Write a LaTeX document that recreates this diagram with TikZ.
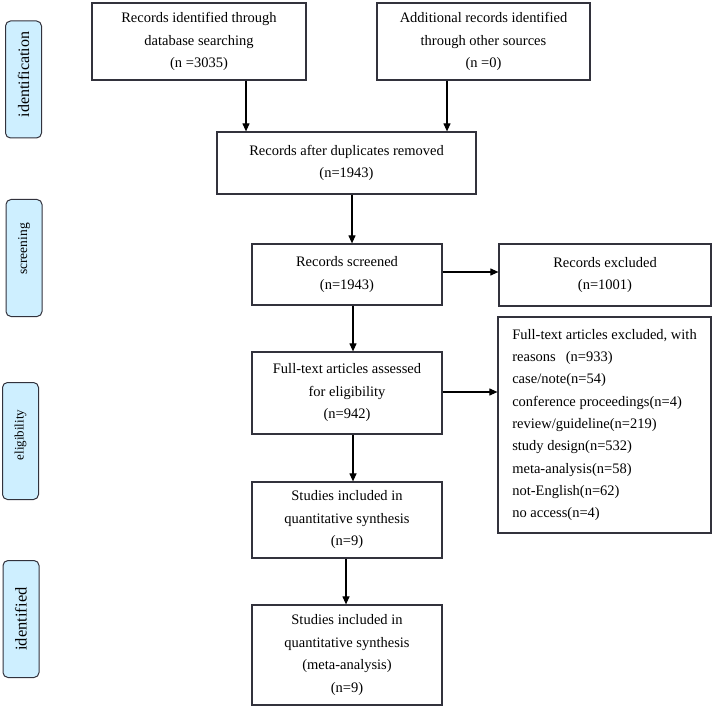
\documentclass[tikz,border=0pt]{standalone}
\usepackage{fontspec}
\setmainfont{Liberation Serif}
\usepackage{xcolor}
\usetikzlibrary{arrows.meta,positioning,calc}
\definecolor{phase}{RGB}{206,239,255}
\definecolor{edge}{RGB}{50,50,60}

\begin{document}
\begin{tikzpicture}[x=1pt,y=-1pt,
  box/.style={draw=edge,line width=1.2pt,minimum width=190pt,align=center,inner sep=2pt,
    font=\fontsize{14.5}{22.5}\selectfont},
  side/.style={draw=edge,fill=phase,line width=1pt,rounded corners=5pt,rotate=90,
    minimum width=117pt,minimum height=36pt,font=\fontsize{13.5}{16}\selectfont},
  arr/.style={-{Triangle[length=8pt,width=7pt]},line width=1.1pt,draw=black}
]
\useasboundingbox (0,0) rectangle (714,708);
% Phases
\node[side,font=\fontsize{16}{18}\selectfont]   (ident)  at (23.5,79.5) {\hspace{10pt}identification};
\node[side]                                     (screen) at (24,258)    {\hspace{18pt}screening};
\node[side,font=\fontsize{13}{15}\selectfont]   (elig)   at (20.5,441)  {\hspace{12pt}eligibility};
\node[side,font=\fontsize{16.5}{18}\selectfont] (incd)   at (21,619)    {identified};

% Boxes
\node[box,minimum width=214pt,minimum height=77pt] (db)    at (199,41.5)  {Records identified through\\database searching\\(n =3035)};
\node[box,minimum width=213pt,minimum height=77pt] (other) at (483.5,41.5){Additional records identified\\through other sources\\(n =0)};
\node[box,minimum width=259pt,minimum height=62pt] (dup)   at (346.5,163) {Records after duplicates removed\\(n=1943)};
\node[box,minimum height=61pt]                     (scr)   at (347,274.5) {Records screened\\(n=1943)};
\node[box,minimum width=212pt,minimum height=62pt] (exc)   at (605,275)   {Records excluded\\(n=1001)};
\node[box,minimum height=82pt]                     (full)  at (347,393)   {Full-text articles assessed\\for eligibility\\(n=942)};
\node[box,minimum width=213pt,minimum height=216pt,align=left,inner sep=11pt,
  font=\fontsize{14.5}{22.3}\selectfont]           (reas)  at (604.5,425) {Full-text articles excluded, with\\reasons\hspace{0.7em}(n=933)\\case/note(n=54)\\conference proceedings(n=4)\\review/guideline(n=219)\\study design(n=532)\\meta-analysis(n=58)\\not-English(n=62)\\no access(n=4)};
\node[box,minimum height=76pt]                     (incl)  at (347,520)   {Studies included in\\quantitative synthesis\\(n=9)};
\node[box,minimum height=100pt]                    (meta)  at (347,655)   {Studies included in\\quantitative synthesis\\(meta-analysis)\\(n=9)};

% Arrows
\draw[arr] ([xshift=47pt]db.south) -- ([xshift=47pt]db.south |- dup.north);
\draw[arr] ([xshift=-36.5pt]other.south) -- ([xshift=-36.5pt]other.south |- dup.north);
\draw[arr] ([xshift=5.5pt]dup.south) -- ([xshift=5.5pt]dup.south |- scr.north);
\draw[arr] ([yshift=2.5pt]scr.east) -- ([yshift=2.5pt]scr.east -| exc.west);
\draw[arr] ([xshift=6pt]scr.south) -- ([xshift=6pt]scr.south |- full.north);
\draw[arr] ([yshift=1pt]full.east) -- ([yshift=1pt]full.east -| reas.west);
\draw[arr] ([xshift=6pt]full.south) -- ([xshift=6pt]full.south |- incl.north);
\draw[arr] ([xshift=-1pt]incl.south) -- ([xshift=-1pt]incl.south |- meta.north);
\end{tikzpicture}
\end{document}
